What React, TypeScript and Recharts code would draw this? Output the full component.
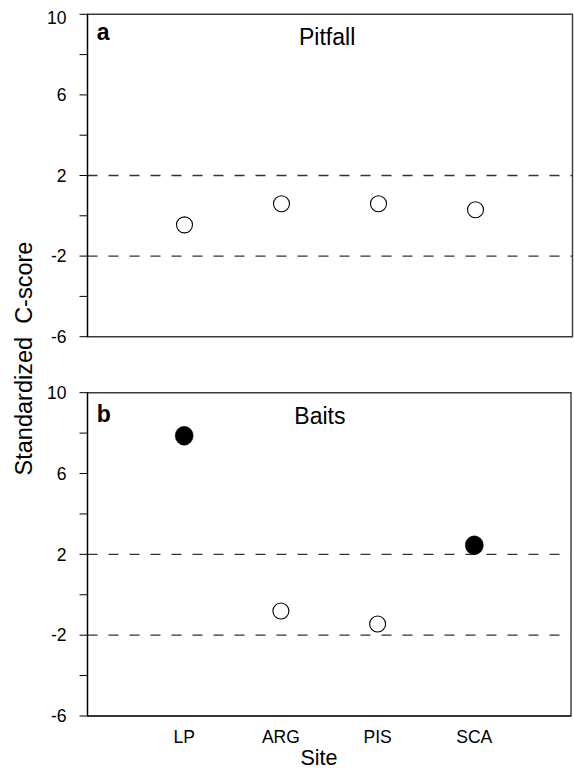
import React from 'react';
import {
  ScatterChart,
  Scatter,
  XAxis,
  YAxis,
  ReferenceLine,
  ReferenceArea,
} from 'recharts';

// ---- data ----
const sites = ['LP', 'ARG', 'PIS', 'SCA'];
const pitfallScores = [-0.45, 0.6, 0.6, 0.3];
const pitfallSignificant = [false, false, false, false];
const baitScores = [7.87, -0.8, -1.45, 2.45];
const baitSignificant = [true, false, false, true];
const yTicks = [-6, -4, -2, 0, 2, 4, 6, 8, 10];
const yLabeledTicks = [-6, -2, 2, 6, 10];
const thresholds = [2, -2];
const siteTicks = [1, 2, 3, 4];

const FONT = '"Liberation Sans", Arial, Helvetica, sans-serif';

const buildData = (scores: number[], sig: boolean[]) =>
  sites.map((s, i) => ({ x: i + 1, y: scores[i], significant: sig[i], site: s }));

const pitfallData = buildData(pitfallScores, pitfallSignificant);
const baitData = buildData(baitScores, baitSignificant);

const Marker = (props: any) => {
  const { cx, cy, payload } = props;
  if (cx == null || cy == null) return null;
  if (payload && payload.significant) {
    return <ellipse cx={cx} cy={cy} rx={9} ry={9.4} fill="#000" stroke="#000" strokeWidth={0.5} />;
  }
  return <circle cx={cx} cy={cy} r={8} fill="#fff" stroke="#000" strokeWidth={1.1} />;
};

const makeYTick = (shiftTop: number) => (props: any) => {
  const { x, y, payload } = props;
  const v = payload?.value;
  if (!yLabeledTicks.includes(v)) return null;
  const dy = v === 10 ? shiftTop : 0;
  return (
    <text
      x={x}
      y={y + dy}
      dy="0.355em"
      textAnchor="end"
      fill="#000"
      fontSize={17.5}
      fontFamily={FONT}
    >
      {String(v)}
    </text>
  );
};

type PanelProps = {
  data: any[];
  height: number;
  margin: { top: number; right: number; bottom: number; left: number };
  showX: boolean;
  topShift: number;
};

const Panel = ({ data, height, margin, showX, topShift }: PanelProps) => (
  <ScatterChart width={574} height={height} margin={margin}>
    <XAxis
      type="number"
      dataKey="x"
      domain={[0, 5]}
      ticks={siteTicks}
      interval={0}
      hide={!showX}
      height={showX ? 54 : 0}
      tickFormatter={(v: number) => sites[v - 1] ?? ''}
      axisLine={{ stroke: '#000', strokeWidth: 1.2 }}
      tickLine={false}
      tickSize={0}
      tickMargin={15}
      tick={{ fill: '#000', fontSize: 17.5, fontFamily: FONT }}
    />
    <YAxis
      type="number"
      dataKey="y"
      domain={[-6, 10]}
      ticks={yTicks}
      interval={0}
      width={87.5}
      axisLine={{ stroke: '#000', strokeWidth: 1.2 }}
      tickLine={{ stroke: '#000', strokeWidth: 1 }}
      tickSize={8}
      tickMargin={13}
      tick={makeYTick(topShift)}
    />
    <ReferenceArea x1={0} x2={5} y1={-6} y2={10} fill="none" stroke="#3a3a3a" strokeWidth={1.4} fillOpacity={0} />
    {thresholds.map((t) => (
      <ReferenceLine key={t} y={t} stroke="#333" strokeWidth={1.3} strokeDasharray="10 11" />
    ))}
    <Scatter data={data} shape={<Marker />} isAnimationActive={false} />
  </ScatterChart>
);

export default function App() {
  return (
    <div
      style={{
        position: 'absolute',
        top: 0,
        left: 0,
        width: 574,
        height: 770,
        background: '#fff',
        fontFamily: FONT,
      }}
    >
      <div style={{ position: 'absolute', top: 0, left: 0 }}>
        <Panel
          data={pitfallData}
          height={350}
          margin={{ top: 14.3, right: 1.5, bottom: 13.3, left: 0 }}
          showX={false}
          topShift={3}
        />
      </div>
      <div style={{ position: 'absolute', top: 360, left: 0 }}>
        <Panel
          data={baitData}
          height={410}
          margin={{ top: 32.7, right: 3, bottom: 0, left: 0 }}
          showX={true}
          topShift={0}
        />
      </div>
      <svg
        width={574}
        height={770}
        style={{ position: 'absolute', top: 0, left: 0, pointerEvents: 'none' }}
      >
        <g fontFamily={FONT} fill="#000">
          <text x={96.8} y={40} fontSize={23} fontWeight="bold">a</text>
          <text x={299} y={45} fontSize={23}>Pitfall</text>
          <text x={96.7} y={421.7} fontSize={23} fontWeight="bold">b</text>
          <text x={294.3} y={424} fontSize={23}>Baits</text>
          <text x={300.5} y={765} fontSize={21.5}>Site</text>
          <text
            transform="translate(31.7,358.5) rotate(-90)"
            textAnchor="middle"
            fontSize={23.5}
            style={{ whiteSpace: 'pre' }}
          >
            {'Standardized  C-score'}
          </text>
        </g>
      </svg>
    </div>
  );
}
